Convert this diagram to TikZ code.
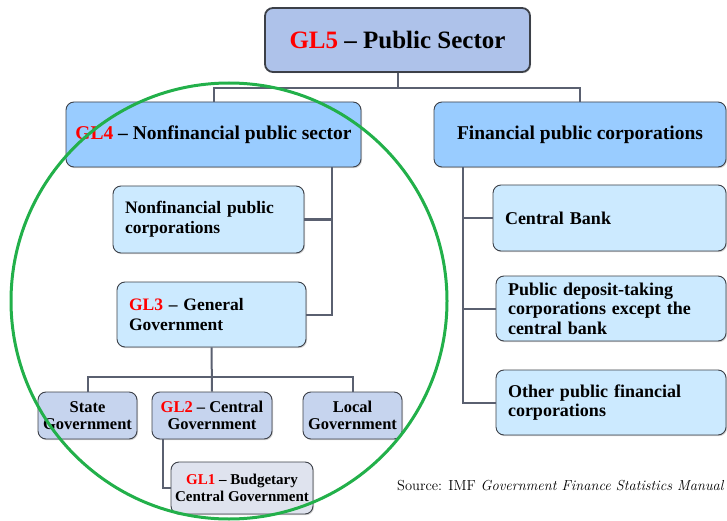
\documentclass[tikz,border=0pt]{standalone}
\usepackage{fontspec}
\newfontfamily\boxfont[Ligatures=TeX]{Liberation Serif}
\usetikzlibrary{shadows}
\definecolor{topfill}{HTML}{AEC2EA}
\definecolor{midfill}{HTML}{99CCFF}
\definecolor{subfill}{HTML}{CCEAFF}
\definecolor{govfill}{HTML}{C6D4EE}
\definecolor{budfill}{HTML}{DFE3EE}
\definecolor{boxline}{HTML}{3C4048}
\definecolor{linkgray}{HTML}{5A6070}
\definecolor{ringgreen}{HTML}{22B04A}
\newcommand{\gl}[1]{\textcolor{red}{GL#1}}

\begin{document}
\begin{tikzpicture}[x=1pt,y=-1pt,
    box/.style={draw=boxline,line width=0.9pt,rounded corners=8pt,inner sep=0pt,
      drop shadow={shadow xshift=1pt,shadow yshift=-1.2pt,opacity=0.35},
      font=\boxfont\bfseries\fontsize{17.5}{20}\selectfont},
    leftbox/.style={box,align=left,inner xsep=12pt},
    rightbox/.style={leftbox,fill=subfill,text width=206pt,minimum height=65pt,
      font=\boxfont\bfseries\fontsize{18}{19.5}\selectfont},
    govbox/.style={box,fill=govfill,align=center,minimum width=99pt,minimum height=47pt,
      font=\boxfont\bfseries\fontsize{16.5}{17}\selectfont},
    link/.style={draw=linkgray,line width=2pt}]
  \useasboundingbox (0,0) rectangle (727,521);

  \node[box,fill=topfill,line width=1.8pt,minimum width=265pt,minimum height=64pt,
    font=\boxfont\bfseries\fontsize{25}{28}\selectfont] (gl5) at (397.5,40) {\gl5 -- Public Sector};
  \node[box,fill=midfill,minimum width=295pt,minimum height=65pt,
    font=\boxfont\bfseries\fontsize{19.5}{22}\selectfont] (gl4) at (213.5,134.5)
    {\gl4 -- Nonfinancial public sector};
  \node[box,fill=midfill,minimum width=292pt,minimum height=65pt,
    font=\boxfont\bfseries\fontsize{19.5}{22}\selectfont] (fpc) at (580,134.5)
    {Financial public corporations};

  \node[leftbox,fill=subfill,text width=167pt,minimum height=67pt] (nfc) at (208.5,219.5)
    {Nonfinancial public\\corporations};
  \node[leftbox,fill=subfill,text width=165pt,minimum height=65pt] (gl3) at (211.5,314.5)
    {\gl3 -- General\\Government};

  \node[govbox] (state) at (87.5,415.5) {State\\Government};
  \node[govbox,minimum width=120pt] (gl2) at (212,415.5) {\gl2 -- Central\\Government};
  \node[govbox] (local) at (352.5,415.5) {Local\\Government};
  \node[box,fill=budfill,align=center,minimum width=142pt,minimum height=52pt,
    font=\boxfont\bfseries\fontsize{15}{17}\selectfont] (gl1) at (242,488)
    {\gl1 -- Budgetary\\Central Government};

  \node[rightbox,text width=209pt,minimum height=66pt] (cb) at (609.5,218) {Central Bank};
  \node[rightbox] (pdt) at (611,308.5)
    {Public deposit-taking\\corporations except the\\central bank};
  \node[rightbox] (opf) at (611,402.5) {Other public financial\\corporations};

  \coordinate (topbus) at (397.5,88);
  \coordinate (govbus) at (212,377);
  \draw[link] (gl5.south) -- (topbus);
  \draw[link] (gl4.north) |- (topbus) -| (fpc.north);
  \draw[link] (nfc.east) -| ([xshift=-29pt]gl4.south east);
  \draw[link] ([xshift=-29pt]gl4.south east) |- (gl3.east);
  \draw[link] (gl3.south) -- (gl2.north);
  \draw[link] (state.north) |- (govbus) -| (local.north);
  \draw[link] ([xshift=11pt]gl2.south west) |- (gl1.west);
  \draw[link] ([xshift=29pt]fpc.south west) |- (cb.west);
  \draw[link] ([xshift=29pt]fpc.south west) |- (pdt.west);
  \draw[link] ([xshift=29pt]fpc.south west) |- (opf.west);

  \node[anchor=base west,inner sep=0pt,font=\fontsize{14.5}{16}\selectfont] (src) at (397,490)
    {Source: IMF \textit{Government Finance Statistics Manual}};

  \draw[ringgreen,line width=3pt] (229,301) circle (218);
\end{tikzpicture}
\end{document}
